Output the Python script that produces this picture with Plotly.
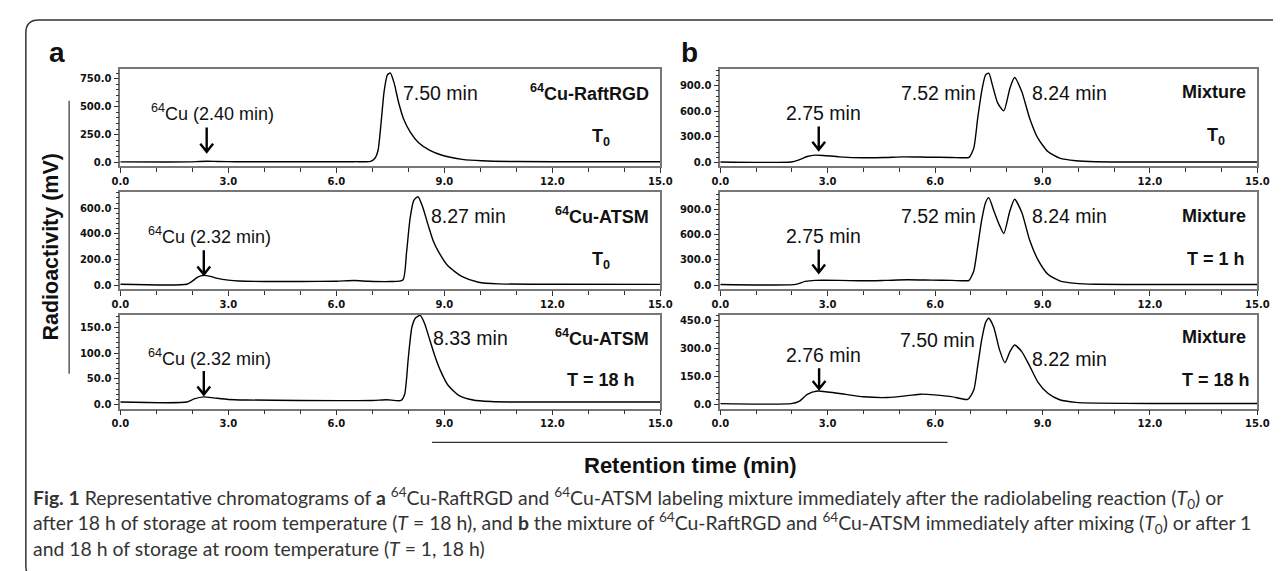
import plotly.graph_objects as go

# ---------------- data ----------------
# Panel a, top: 64Cu-RaftRGD, T0
a1_t = [0, 1.9, 2.2, 2.4, 2.7, 3.2, 5.0, 6.5, 6.95, 7.08, 7.16, 7.24, 7.33, 7.42, 7.5, 7.6, 7.73, 7.87, 8.06, 8.28, 8.6, 8.96, 9.5, 10.05, 11, 13, 15]
a1_v = [5, 5, 9, 11, 9, 6, 6, 7, 10, 40, 107, 340, 640, 785, 803, 720, 540, 390, 270, 180, 108, 62, 28, 15, 8, 6, 6]
# Panel a, middle: 64Cu-ATSM, T0
a2_t = [0, 1.85, 2.0, 2.15, 2.32, 2.5, 2.7, 3.0, 3.3, 4.0, 5.0, 6.0, 6.5, 6.9, 7.5, 7.85, 7.95, 8.05, 8.15, 8.27, 8.4, 8.55, 8.7, 8.85, 9.1, 9.5, 9.95, 10.5, 12, 15]
a2_v = [6, 6, 30, 62, 75, 68, 52, 38, 31, 28, 28, 30, 35, 29, 27, 40, 250, 520, 660, 690, 610, 470, 340, 255, 150, 65, 22, 9, 6, 5]
# Panel a, bottom: 64Cu-ATSM, T = 18 h
a3_t = [0, 1.85, 2.05, 2.32, 2.6, 3.0, 3.5, 5.0, 7.0, 7.4, 7.8, 7.9, 8.0, 8.1, 8.2, 8.33, 8.45, 8.6, 8.75, 8.9, 9.1, 9.4, 9.8, 10.3, 11, 15]
a3_v = [5, 5, 11, 15, 13, 10, 9, 8, 8, 9.5, 8, 20, 90, 150, 168, 173, 158, 125, 92, 65, 38, 18, 9, 6, 5, 5]
# Panel b, top: Mixture, T0
b1_t = [0, 1.98, 2.2, 2.43, 2.65, 2.88, 3.33, 4.0, 4.6, 5.12, 5.79, 6.46, 6.8, 6.95, 7.08, 7.19, 7.30, 7.41, 7.50, 7.60, 7.75, 7.92, 8.09, 8.22, 8.42, 8.64, 8.87, 9.15, 9.48, 9.93, 10.5, 12, 15]
b1_v = [6, 6, 31, 70, 86, 82, 66, 55, 58, 66, 62, 59, 55, 60, 168, 520, 833, 1028, 1048, 911, 696, 606, 872, 997, 833, 520, 285, 129, 51, 20, 9, 6, 6]
# Panel b, middle: Mixture, T = 1 h
b2_t = [0, 2.1, 2.37, 2.65, 3.33, 4.0, 4.6, 5.23, 5.9, 6.46, 6.85, 6.95, 7.08, 7.19, 7.30, 7.41, 7.50, 7.64, 7.80, 7.92, 8.09, 8.22, 8.42, 8.64, 8.87, 9.15, 9.48, 9.93, 10.5, 12, 15]
b2_v = [6, 8, 43, 55, 55, 50, 55, 62, 58, 55, 50, 55, 166, 457, 766, 979, 1037, 882, 708, 611, 882, 1018, 863, 534, 302, 128, 50, 19, 9, 6, 6]
# Panel b, bottom: Mixture, T = 18 h
b3_t = [0, 1.98, 2.2, 2.43, 2.71, 3.0, 3.33, 4.0, 4.67, 5.23, 5.6, 5.79, 6.46, 6.91, 7.08, 7.19, 7.30, 7.41, 7.50, 7.64, 7.80, 7.95, 8.09, 8.22, 8.42, 8.64, 8.87, 9.15, 9.48, 9.93, 10.5, 12, 15]
b3_v = [5, 5, 17, 55, 73, 68, 60, 42, 38, 48, 56, 55, 43, 28, 78, 208, 346, 441, 464, 415, 294, 225, 285, 320, 285, 208, 121, 61, 26, 12, 8, 6, 6]

x_ticks = [0, 3, 6, 9, 12, 15]
y_ticks_a = [[0, 250, 500, 750], [0, 200, 400, 600], [0, 50, 100, 150]]
y_ticks_b = [[0, 300, 600, 900], [0, 300, 600, 900], [0, 150, 300, 450]]
y_max_a = [840, 724, 174]
y_max_b = [1100, 1100, 482]

# labels
cu_label_a = ["<sup>64</sup>Cu (2.40 min)", "<sup>64</sup>Cu (2.32 min)", "<sup>64</sup>Cu (2.32 min)"]
cu_time_a = [2.40, 2.32, 2.32]
peak_time_a = [7.50, 8.27, 8.33]
sample_a = ["<sup>64</sup>Cu-RaftRGD", "<sup>64</sup>Cu-ATSM", "<sup>64</sup>Cu-ATSM"]
cond_a = ["T<sub>0</sub>", "T<sub>0</sub>", "T = 18 h"]

cu_time_b = [2.75, 2.75, 2.76]
peak1_time_b = [7.52, 7.52, 7.50]
peak2_time_b = [8.24, 8.24, 8.22]
sample_b = ["Mixture", "Mixture", "Mixture"]
cond_b = ["T<sub>0</sub>", "T = 1 h", "T = 18 h"]

caption_lines = [
    "<b>Fig. 1</b> Representative chromatograms of <b>a</b> <sup>64</sup>Cu-RaftRGD and <sup>64</sup>Cu-ATSM labeling mixture immediately after the radiolabeling reaction (<i>T</i><sub>0</sub>) or",
    "after 18 h of storage at room temperature (<i>T</i> = 18 h), and <b>b</b> the mixture of <sup>64</sup>Cu-RaftRGD and <sup>64</sup>Cu-ATSM immediately after mixing (<i>T</i><sub>0</sub>) or after 1",
    "and 18 h of storage at room temperature (<i>T</i> = 1, 18 h)",
]

# ---------------- layout geometry ----------------
W, H = 1281, 571
def fx(px): return px / W
def fy(py): return 1 - py / H

col_px = [(105, 654), (715, 1261)]
row_px = [(61, 159), (185, 282), (308, 402)]
BASE_PX = 4  # zero sits this many px above the bottom axis line

fig = go.Figure()
layout = dict(
    width=W, height=H, margin=dict(l=0, r=0, t=0, b=0),
    paper_bgcolor="white", plot_bgcolor="white", showlegend=False,
)
shapes, annos = [], []

tick_font = dict(family="DejaVu Sans", size=10, color="#111", weight="bold")
cu_font = dict(family="Liberation Sans, Arial", size=18, color="#111")
lab_font = dict(family="Liberation Sans, Arial", size=19.5, color="#111")
bold_font = dict(family="Liberation Sans, Arial", size=18, color="#111", weight="bold")

series = [(a1_t, a1_v), (a2_t, a2_v), (a3_t, a3_v), (b1_t, b1_v), (b2_t, b2_v), (b3_t, b3_v)]

for col in range(2):
    for row in range(3):
        n = col * 3 + row + 1
        xs = "x" if n == 1 else f"x{n}"
        ys = "y" if n == 1 else f"y{n}"
        xa = "xaxis" if n == 1 else f"xaxis{n}"
        ya = "yaxis" if n == 1 else f"yaxis{n}"
        t, v = series[n - 1]
        fig.add_trace(go.Scatter(x=t, y=v, mode="lines", line=dict(color="black", width=1.4, shape="spline", smoothing=0.6),
                                 xaxis=xs, yaxis=ys, hoverinfo="skip"))
        x0, x1 = col_px[col]
        y0, y1 = row_px[row]
        ticks = (y_ticks_a if col == 0 else y_ticks_b)[row]
        ymax = (y_max_a if col == 0 else y_max_b)[row]
        hpx = y1 - y0
        ymin = -ymax * BASE_PX / (hpx - BASE_PX)
        dt = ticks[1] - ticks[0]
        layout[xa] = dict(domain=[fx(x0), fx(x1)], range=[0, 15], anchor=ys,
                          tickvals=x_ticks, ticktext=[f"{v:.1f}" for v in x_ticks],
                          ticks="outside", ticklen=5, tickwidth=1, tickcolor="#333",
                          minor=dict(dtick=1, ticks="outside", ticklen=4, tickcolor="#333", showgrid=False),
                          showline=True, linecolor="#777", linewidth=1.5, mirror=True,
                          showgrid=False, zeroline=False, tickfont=tick_font, fixedrange=True)
        layout[ya] = dict(domain=[fy(y1), fy(y0)], range=[ymin, ymax], anchor=xs,
                          tickvals=ticks, ticktext=[f"{v:.1f}" for v in ticks],
                          ticks="outside", ticklen=5, tickwidth=1, tickcolor="#333",
                          minor=dict(dtick=dt / 5, tick0=0, ticks="outside", ticklen=3, tickcolor="#333", showgrid=False),
                          showline=True, linecolor="#777", linewidth=1.5, mirror=True,
                          showgrid=False, zeroline=False, tickfont=tick_font, fixedrange=True)

        # arrow (data x, domain y)
        xppu = (x1 - x0) / 15.0
        dx = 6.5 / xppu
        dy = 8.0 / hpx
        at = (cu_time_a if col == 0 else cu_time_b)[row]
        if col == 0:
            ytop, ybot = 0.40, 0.15
        else:
            ytop, ybot = (0.41, 0.17) if row < 2 else (0.43, 0.21)
        shapes.append(dict(type="path", xref=xs, yref=f"{ys} domain",
                           path=f"M {at},{ytop} L {at},{ybot} M {at - dx},{ybot + dy} L {at},{ybot} L {at + dx},{ybot + dy}",
                           line=dict(color="black", width=2.4)))
        ydom = f"{ys} domain"
        if col == 0:
            annos.append(dict(x=at + 0.17, y=0.55, xref=xs, yref=ydom, text=cu_label_a[row],
                              showarrow=False, font=cu_font, xanchor="center", yanchor="middle"))
            annos.append(dict(x=peak_time_a[row] + 0.3, y=0.755, xref=xs, yref=ydom, text=f"{peak_time_a[row]:.2f} min",
                              showarrow=False, font=lab_font, xanchor="left", yanchor="middle"))
            annos.append(dict(x=14.75, y=0.76, xref=xs, yref=ydom, text=sample_a[row],
                              showarrow=False, font=bold_font, xanchor="right", yanchor="middle"))
            annos.append(dict(x=13.35, y=0.30, xref=xs, yref=ydom, text=cond_a[row],
                              showarrow=False, font=bold_font, xanchor="center", yanchor="middle"))
        else:
            cy = 0.55 if row < 2 else 0.57
            annos.append(dict(x=at + 0.12, y=cy, xref=xs, yref=ydom, text=f"{at:.2f} min",
                              showarrow=False, font=lab_font, xanchor="center", yanchor="middle"))
            annos.append(dict(x=peak1_time_b[row] - 0.33, y=0.755 if row < 2 else 0.73, xref=xs, yref=ydom,
                              text=f"{peak1_time_b[row]:.2f} min", showarrow=False, font=lab_font,
                              xanchor="right", yanchor="middle"))
            annos.append(dict(x=peak2_time_b[row] + 0.42, y=0.755 if row < 2 else 0.53, xref=xs, yref=ydom,
                              text=f"{peak2_time_b[row]:.2f} min", showarrow=False, font=lab_font,
                              xanchor="left", yanchor="middle"))
            annos.append(dict(x=14.75, y=0.76, xref=xs, yref=ydom, text=sample_b[row],
                              showarrow=False, font=bold_font, xanchor="right", yanchor="middle"))
            annos.append(dict(x=13.85, y=0.31, xref=xs, yref=ydom, text=cond_b[row],
                              showarrow=False, font=bold_font, xanchor="center", yanchor="middle"))

# panel letters
annos.append(dict(x=fx(41), y=fy(45), xref="paper", yref="paper", text="<b>a</b>", showarrow=False,
                  font=dict(family="Liberation Sans, Arial", size=28, color="#111"), xanchor="center", yanchor="middle"))
annos.append(dict(x=fx(684), y=fy(45), xref="paper", yref="paper", text="<b>b</b>", showarrow=False,
                  font=dict(family="Liberation Sans, Arial", size=28, color="#111"), xanchor="center", yanchor="middle"))
# axis titles
annos.append(dict(x=fx(35), y=fy(239), xref="paper", yref="paper", text="<b>Radioactivity (mV)</b>", showarrow=False,
                  textangle=-90, font=dict(family="Liberation Sans, Arial", size=21.5, color="#111"),
                  xanchor="center", yanchor="middle"))
shapes.append(dict(type="line", xref="paper", yref="paper", x0=fx(53), x1=fx(53), y0=fy(93), y1=fy(367),
                   line=dict(color="#333", width=1.2)))
annos.append(dict(x=fx(685), y=fy(459), xref="paper", yref="paper", text="<b>Retention time (min)</b>", showarrow=False,
                  font=dict(family="Liberation Sans, Arial", size=22, color="#111"), xanchor="center", yanchor="middle"))
shapes.append(dict(type="line", xref="paper", yref="paper", x0=fx(422), x1=fx(946), y0=fy(436), y1=fy(436),
                   line=dict(color="#333", width=1.2)))
# caption (one block, three lines)
annos.append(dict(x=fx(14), y=fy(476), xref="paper", yref="paper", text="<br>".join(caption_lines), showarrow=False,
                  align="left", font=dict(family="Lato, Liberation Sans, Arial", size=19.4, color="#333"),
                  xanchor="left", yanchor="top"))
# outer rounded frame (top & left visible)
shapes.append(dict(type="path", xref="paper", yref="paper",
                   path=f"M {fx(1300)},{fy(12)} L {fx(22)},{fy(12)} Q {fx(9)},{fy(12)} {fx(9)},{fy(25)} "
                        f"L {fx(9)},{fy(560)} Q {fx(9)},{fy(573)} {fx(22)},{fy(573)}",
                   line=dict(color="#333", width=1.5)))

layout["shapes"] = shapes
layout["annotations"] = annos
fig.update_layout(**layout)
fig.write_html("out.html")
